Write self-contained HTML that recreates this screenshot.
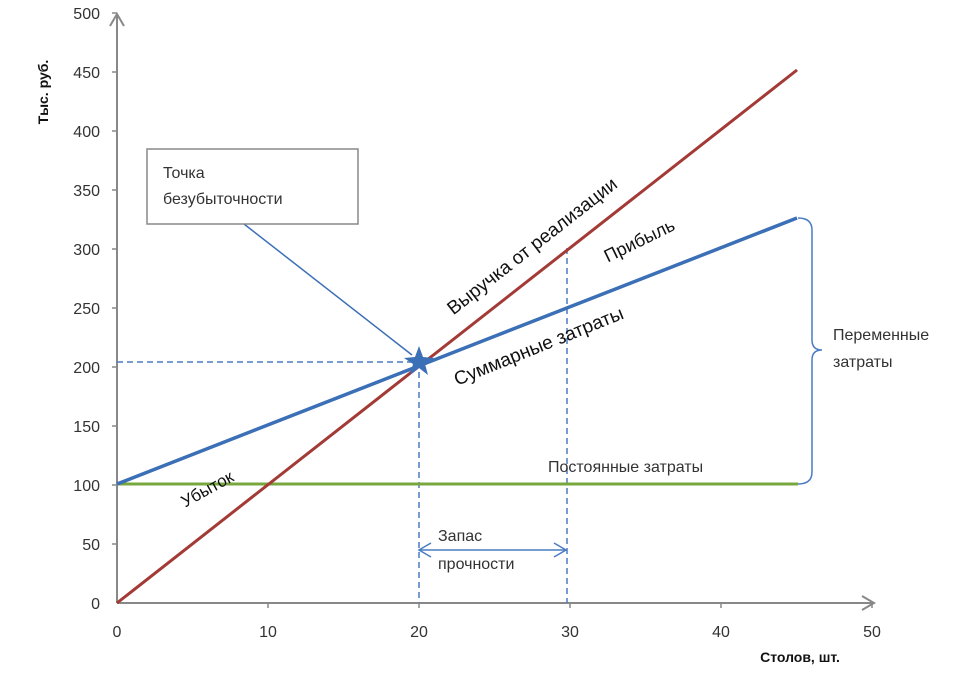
<!DOCTYPE html>
<html><head><meta charset="utf-8"><style>body{margin:0;background:#fff}svg{display:block;font-family:"Liberation Sans",sans-serif}</style></head><body>
<svg width="976" height="683" viewBox="0 0 976 683">
<g stroke="#888" stroke-width="2" fill="none">
<line x1="117" y1="14" x2="117" y2="603"/>
<polyline points="110,26 117,14 124,26"/>
<line x1="117" y1="603" x2="872" y2="603"/>
<polyline points="862,596 874,603 862,610"/>
</g>
<g stroke="#888" stroke-width="1.5">
<line x1="112" y1="13" x2="117" y2="13"/><line x1="112" y1="72" x2="117" y2="72"/><line x1="112" y1="131" x2="117" y2="131"/><line x1="112" y1="190" x2="117" y2="190"/><line x1="112" y1="249" x2="117" y2="249"/><line x1="112" y1="308" x2="117" y2="308"/><line x1="112" y1="367" x2="117" y2="367"/><line x1="112" y1="426" x2="117" y2="426"/><line x1="112" y1="485" x2="117" y2="485"/><line x1="112" y1="544" x2="117" y2="544"/>
<line x1="268" y1="603" x2="268" y2="608"/><line x1="419" y1="603" x2="419" y2="608"/><line x1="570" y1="603" x2="570" y2="608"/><line x1="721" y1="603" x2="721" y2="608"/><line x1="872" y1="603" x2="872" y2="608"/>
</g>
<g font-size="16" fill="#333" text-anchor="end">
<text x="100" y="19">500</text><text x="100" y="78">450</text><text x="100" y="137">400</text><text x="100" y="196">350</text><text x="100" y="255">300</text><text x="100" y="314">250</text><text x="100" y="373">200</text><text x="100" y="432">150</text><text x="100" y="491">100</text><text x="100" y="550">50</text><text x="100" y="609">0</text>
</g>
<g font-size="16" fill="#333" text-anchor="middle">
<text x="117" y="637">0</text><text x="268" y="637">10</text><text x="419" y="637">20</text><text x="570" y="637">30</text><text x="721" y="637">40</text><text x="872" y="637">50</text>
</g>
<text x="800" y="662" font-size="14" font-weight="bold" text-anchor="middle" fill="#111">Столов, шт.</text>
<text transform="translate(48,92) rotate(-90)" font-size="14" font-weight="bold" text-anchor="middle" fill="#111">Тыс. руб.</text>
<g stroke="#4a7cc4" stroke-width="1.5" stroke-dasharray="6,4" fill="none">
<line x1="117" y1="362" x2="419" y2="362"/>
<line x1="419" y1="362" x2="419" y2="603"/>
<line x1="567" y1="248" x2="567" y2="603"/>
</g>
<line x1="117" y1="484" x2="798" y2="484" stroke="#77a73d" stroke-width="3"/>
<line x1="117" y1="603" x2="797" y2="70" stroke="#a33a36" stroke-width="3"/>
<line x1="117" y1="484" x2="797" y2="218" stroke="#3b6fb6" stroke-width="3.5"/>
<line x1="244" y1="224" x2="412" y2="355" stroke="#3b6fb6" stroke-width="1.5"/>
<polygon points="419,346 423,357 434,358 425,364 428,375 419,368 410,375 413,364 404,358 415,357" fill="#3b6fb6"/>
<rect x="147" y="149" width="211" height="75" fill="#fff" stroke="#888" stroke-width="1.5"/>
<text x="163" y="178" font-size="16" fill="#333">Точка</text>
<text x="163" y="204" font-size="16" fill="#333">безубыточности</text>
<g stroke="#4a7cc4" stroke-width="1.5" fill="none">
<line x1="419" y1="550" x2="566" y2="550"/>
<polyline points="431,543 419,550 431,557"/><polyline points="554,543 566,550 554,557"/>
<path d="M798,218 Q812,218 812,230 L812,340 Q812,350 822,350 Q812,350 812,360 L812,472 Q812,484 798,484"/>
</g>
<text x="438" y="541" font-size="16" fill="#333">Запас</text>
<text x="438" y="569" font-size="16" fill="#333">прочности</text>
<text x="548" y="472" font-size="16" fill="#333">Постоянные затраты</text>
<text x="833" y="340" font-size="16" fill="#333">Переменные</text>
<text x="833" y="367" font-size="16" fill="#333">затраты</text>
<text transform="translate(536,251) rotate(-38)" font-size="19" text-anchor="middle" fill="#111">Выручка от реализации</text>
<text transform="translate(642,246) rotate(-26)" font-size="18" text-anchor="middle" fill="#111">Прибыль</text>
<text transform="translate(541,352) rotate(-22)" font-size="19" text-anchor="middle" fill="#111">Суммарные затраты</text>
<text transform="translate(210,494) rotate(-29)" font-size="17" text-anchor="middle" fill="#111">Убыток</text>
</svg>
</body></html>
